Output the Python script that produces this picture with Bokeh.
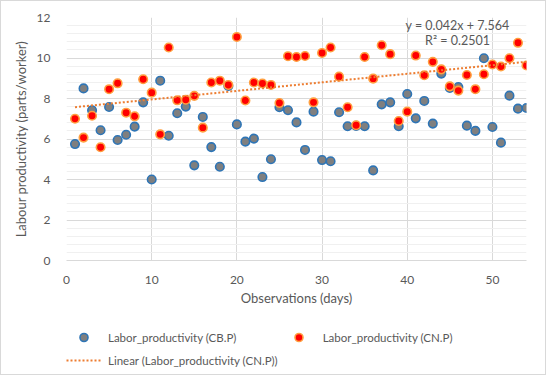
import numpy as np
from bokeh.plotting import figure
from bokeh.layouts import column
from bokeh.models import FixedTicker, Legend, LegendItem, Label, ColumnDataSource
from bokeh.embed import file_html
from bokeh.resources import INLINE

days = list(range(1, 55))
cb_p = [5.75, 8.50, 7.42, 6.43, 7.58, 5.95, 6.21, 6.61, 7.81, 4.00,
        8.88, 6.16, 7.27, 7.60, 4.70, 7.09, 5.60, 4.63, 8.62, 6.72,
        5.87, 6.02, 4.12, 5.00, 7.57, 7.42, 6.82, 5.46, 7.35, 4.96,
        4.90, 7.32, 6.63, 6.65, 6.63, 4.45, 7.71, 7.81, 6.63, 8.22,
        7.02, 7.88, 6.76, 9.23, 8.52, 8.57, 6.66, 6.40, 9.99, 6.59,
        5.82, 8.14, 7.50, 7.53]
cn_p = [7.00, 6.07, 7.15, 5.59, 8.46, 8.75, 7.30, 7.12, 8.95, 8.29,
        6.23, 10.52, 7.91, 7.94, 8.13, 6.56, 8.79, 8.88, 8.67, 11.04,
        7.90, 8.79, 8.74, 8.67, 7.78, 10.09, 10.05, 10.10, 7.81, 10.25,
        10.52, 9.08, 7.57, 6.68, 10.05, 8.98, 10.63, 10.19, 6.89, 7.35,
        10.12, 9.15, 9.81, 9.44, 8.60, 8.39, 9.16, 8.46, 9.20, 9.68,
        9.58, 9.99, 10.75, 9.63]
x_ticks = [0, 10, 20, 30, 40, 50]
y_ticks = [0, 2, 4, 6, 8, 10, 12]
eq_text = "y = 0.042x + 7.564"
r2_text = "R\u00b2 = 0.2501"
labels = ["Labor_productivity (CB.P)", "Labor_productivity (CN.P)",
          "Linear (Labor_productivity (CN.P))"]

FONT = "Lato"
TXT = "#595959"
CB_STYLE = dict(marker="circle", size=8.5, fill_color="#7F7F7F",
                line_color="#2E75B6", line_width=1.6)
CN_STYLE = dict(marker="circle", size=8.5, fill_color="#FF0000",
                line_color="#FF9F40", line_width=1.6)
TR_STYLE = dict(line_color="#ED7D31", line_width=2, line_dash="2 2")

p = figure(width=544, height=309, x_range=(0, 54), y_range=(0, 12),
           output_backend="svg", toolbar_location=None,
           min_border_left=65, min_border_right=19, min_border_top=16,
           min_border_bottom=50)
p.outline_line_color = None
p.background_fill_color = "white"
p.border_fill_color = "white"

# axes
p.xaxis.ticker = FixedTicker(ticks=x_ticks)
minor_y = [v for v in np.arange(0, 12.001, 0.4) if abs(v / 2 - round(v / 2)) > 1e-6]
p.yaxis.ticker = FixedTicker(ticks=y_ticks, minor_ticks=minor_y)
for ax in (p.xaxis[0], p.yaxis[0]):
    ax.major_tick_line_color = None
    ax.minor_tick_line_color = None
    ax.major_label_text_font = FONT
    ax.major_label_text_font_size = "12px"
    ax.major_label_text_color = TXT
    ax.axis_label_text_font = FONT
    ax.axis_label_text_font_size = "13px"
    ax.axis_label_text_font_style = "normal"
    ax.axis_label_text_color = TXT
p.xaxis.axis_line_color = "#D9D9D9"
p.yaxis.axis_line_color = None
p.xaxis.axis_label = "Observations (days)"
p.yaxis.axis_label = "Labour productivity (parts/worker)"
p.xaxis.major_label_standoff = 9
p.xaxis.axis_label_standoff = 3
p.yaxis.major_label_standoff = 10
p.yaxis.axis_label_standoff = 5

p.xgrid.grid_line_color = "#D9D9D9"
p.ygrid.grid_line_color = "#D9D9D9"
p.ygrid.minor_grid_line_color = "#F0F0F0"

src = ColumnDataSource(dict(day=days, cb=cb_p, cn=cn_p))
p.scatter("day", "cb", source=src, **CB_STYLE)
p.scatter("day", "cn", source=src, **CN_STYLE)

coef = np.polyfit(np.array(days, float), np.array(cn_p, float), 1)
tx = [days[0], days[-1]]
ty = [coef[0] * t + coef[1] for t in tx]
p.line(tx, ty, **TR_STYLE)

p.add_layout(Label(x=45.9, y=11.62, text=eq_text, text_align="center",
                   text_baseline="middle", text_font=FONT,
                   text_font_size="12.5px", text_color=TXT))
p.add_layout(Label(x=45.9, y=10.88, text=r2_text, text_align="center",
                   text_baseline="middle", text_font=FONT,
                   text_font_size="12.5px", text_color=TXT))

# legend strip below the chart: same data, drawn outside its visible ranges,
# so only the legend shows
lg = figure(width=544, height=64, x_range=(-3, -2), y_range=(-3, -2),
            output_backend="svg", toolbar_location=None,
            x_axis_location=None, y_axis_location=None,
            min_border_left=52, min_border_top=17, min_border_right=0,
            min_border_bottom=0)
lg.outline_line_color = None
lg.xgrid.visible = False
lg.ygrid.visible = False
e_cb = lg.scatter("day", "cb", source=src, **CB_STYLE)
e_cn = lg.scatter("day", "cn", source=src, **CN_STYLE)
e_tr = lg.line(tx, ty, **TR_STYLE)

legend = Legend(items=[
    LegendItem(label=labels[0], renderers=[e_cb]),
    LegendItem(label=labels[1], renderers=[e_cn]),
    LegendItem(label=labels[2], renderers=[e_tr]),
], orientation="horizontal", ncols=2, location="top_left")
legend.label_text_font = FONT
legend.label_text_font_size = "11.5px"
legend.label_text_color = TXT
legend.glyph_width = 35
legend.glyph_height = 20
legend.label_height = 20
legend.label_standoff = 7
legend.spacing = 3
legend.padding = 2
legend.margin = 0
legend.border_line_color = None
legend.background_fill_alpha = 0
lg.add_layout(legend, "center")

layout = column(p, lg, spacing=0, styles={"border": "1px solid #D9D9D9"})

open("out.html", "w").write(file_html(layout, INLINE))
